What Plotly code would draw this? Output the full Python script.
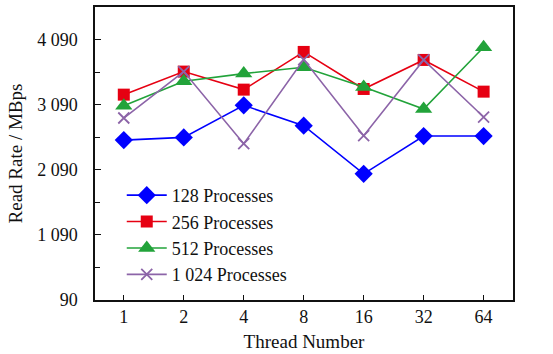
import plotly.graph_objects as go

threads = ["1", "2", "4", "8", "16", "32", "64"]
p128 = [2546, 2587, 3080, 2767, 2028, 2608, 2608]
p256 = [3244, 3598, 3321, 3900, 3331, 3777, 3290]
p512 = [3075, 3449, 3567, 3664, 3362, 3023, 3972]
p1024 = [2885, 3598, 2490, 3782, 2613, 3777, 2900]
names = ["128 Processes", "256 Processes", "512 Processes", "1 024 Processes"]
ytickvals = [90, 1090, 2090, 3090, 4090]
yticktext = ["90", "1 090", "2 090", "3 090", "4 090"]

font = "Times New Roman, Liberation Serif, DejaVu Serif, serif"
fig = go.Figure()
styles = [
    (p128, "#0000FF", dict(symbol="diamond", size=14)),
    (p256, "#E60012", dict(symbol="square", size=12)),
    (p512, "#22A33A", dict(symbol="triangle-up", size=15)),
    (p1024, "#8C64A8", dict(symbol="x-thin", size=11, line=dict(width=1.8, color="#8C64A8"))),
]
for (vals, col, mk), nm in zip(styles, names):
    fig.add_trace(go.Scatter(x=threads, y=vals, name=nm, mode="lines+markers",
                             line=dict(color=col, width=1.6),
                             marker=dict(color=col, **mk)))

fig.update_layout(
    width=553, height=354,
    margin=dict(l=95, r=40, t=7, b=54),
    paper_bgcolor="white", plot_bgcolor="white",
    font=dict(family=font, size=18, color="#111"),
    showlegend=True,
    legend=dict(x=0.064, y=0.42, xanchor="left", yanchor="top",
                bgcolor="rgba(0,0,0,0)", font=dict(family=font, size=18),
                tracegroupgap=0, itemwidth=40),
    xaxis=dict(type="category", range=[-0.48, 6.49], showgrid=False,
               showline=True, linecolor="#111", linewidth=1.5, mirror=True,
               ticks="inside", ticklen=5, tickcolor="#111", automargin=False,
               title=dict(text="Thread Number", standoff=8, font=dict(family=font, size=19)),
               tickfont=dict(family=font, size=18)),
    yaxis=dict(range=[90, 4590], showgrid=False, zeroline=False,
               showline=True, linecolor="#111", linewidth=1.5, mirror=True,
               ticks="inside", ticklen=6, tickcolor="#111", automargin=False,
               tickvals=ytickvals, ticktext=yticktext,
               minor=dict(tickvals=[590, 1590, 2590, 3590], ticks="inside", ticklen=5, tickcolor="#111"),
               ticklabelstandoff=12,
               title=dict(text="Read Rate / MBps", standoff=10, font=dict(family=font, size=19)),
               tickfont=dict(family=font, size=18)),
)
fig.write_html("out.html", config={"displayModeBar": False},
               post_script="document.body.style.margin='0';")
